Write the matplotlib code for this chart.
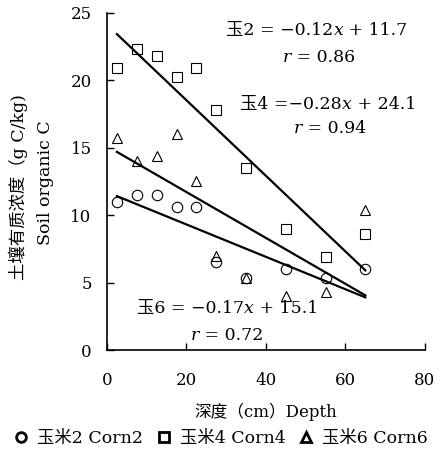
import matplotlib
matplotlib.use("Agg")
import matplotlib.pyplot as plt
import numpy as np
from matplotlib.lines import Line2D
from matplotlib.transforms import Bbox

FAM = ['DejaVu Serif', 'Noto Sans CJK SC']
plt.rcParams['font.family'] = FAM

# Data
depth = [2.5, 7.5, 12.5, 17.5, 22.5, 27.5, 35, 45, 55, 65]
corn2 = [11.0, 11.5, 11.5, 10.6, 10.6, 6.5, 5.3, 6.0, 5.3, 6.0]
corn4 = [20.9, 22.3, 21.8, 20.2, 20.9, 17.8, 13.5, 9.0, 6.9, 8.6]
corn6 = [15.7, 14.0, 14.4, 16.0, 12.5, 7.0, 5.3, 4.0, 4.3, 10.4]

series_labels = ['玉米2 Corn2', '玉米4 Corn4', '玉米6 Corn6']
fit_names = ['玉2', '玉4', '玉6']
fit_slope = [-0.12, -0.28, -0.17]
fit_intercept = [11.7, 24.1, 15.1]
fit_r = [0.86, 0.94, 0.72]
fit_range = [2.5, 65]

xticks = [0, 20, 40, 60, 80]
yticks = [0, 5, 10, 15, 20, 25]

fig = plt.figure(figsize=(4.42, 4.63), dpi=100)
ax = fig.add_axes([0.242, 0.244, 0.7195, 0.729])

markers = ['o', 's', '^']
series = [corn2, corn4, corn6]
for ys, m in zip(series, markers):
    ax.plot(depth, ys, linestyle='none', marker=m, markersize=7.5,
            markerfacecolor='none', markeredgecolor='black', markeredgewidth=0.8,
            zorder=3)

xs = np.array(fit_range)
for s, b in zip(fit_slope, fit_intercept):
    ax.plot(xs, s * xs + b, color='black', linewidth=1.6, zorder=2)

ax.set_xlim(0, 80)
ax.set_ylim(0, 25)
ax.set_xticks(xticks)
ax.set_yticks(yticks)
ax.tick_params(direction='in', length=5, width=1, labelsize=12)
ax.tick_params(axis='x', pad=16)
ax.tick_params(axis='y', pad=11)
for sp in ['top', 'right']:
    ax.spines[sp].set_visible(False)
for sp in ['left', 'bottom']:
    ax.spines[sp].set_linewidth(1.2)

fs = 12.5
groups = []


def chain_text(x, y, pieces):
    arts = []
    prev = None
    for s, style in pieces:
        if prev is None:
            prev = ax.text(x, y, s, ha='left', va='center', fontsize=fs,
                           fontstyle=style)
        else:
            prev = ax.annotate(s, xy=(1, 0), xycoords=prev, ha='left',
                               va='bottom', fontsize=fs, fontstyle=style)
        arts.append(prev)
    groups.append((x, y, arts))


def eq_pieces(name, s, b, sep=' = '):
    sign = '−' if s < 0 else ''
    return [(f'{name}{sep}{sign}{abs(s):.2f}', 'normal'), ('x', 'italic'),
            (f' + {b:.1f}', 'normal')]


def r_pieces(r):
    return [('r', 'italic'), (f' = {r:.2f}', 'normal')]


# centers given in data x
chain_text(52.8, 23.7, eq_pieces(fit_names[0], fit_slope[0], fit_intercept[0]))
chain_text(53.3, 21.7, r_pieces(fit_r[0]))
chain_text(55.6, 18.2, eq_pieces(fit_names[1], fit_slope[1], fit_intercept[1], sep=' ='))
chain_text(56.1, 16.4, r_pieces(fit_r[1]))
chain_text(30.3, 3.1, eq_pieces(fit_names[2], fit_slope[2], fit_intercept[2]))
chain_text(30.3, 1.1, r_pieces(fit_r[2]))

fig.text(266 / 442, 1 - 412 / 463, '深度（cm）Depth', ha='center', va='center',
         fontsize=12)
fig.text(18 / 442, 1 - 187 / 463, '土壤有质浓度（g C/kg)', rotation=90,
         ha='center', va='center', fontsize=12.5)
fig.text(45 / 442, 1 - 183 / 463, 'Soil organic C', rotation=90,
         ha='center', va='center', fontsize=12.5)

handles = [Line2D([], [], linestyle='none', marker=m, markersize=7,
                  markerfacecolor='none', markeredgecolor='black', markeredgewidth=2)
           for m in markers]
fig.legend(handles, series_labels, loc='center', bbox_to_anchor=(0.5, 0.052),
           ncol=3, frameon=False, fontsize=12.5, handlelength=0.8,
           handletextpad=0.5, columnspacing=0.8, borderaxespad=0)

# center each chained text group on its target x
fig.canvas.draw()
renderer = fig.canvas.get_renderer()
for x, y, arts in groups:
    bb = Bbox.union([a.get_window_extent(renderer) for a in arts])
    target_px = ax.transData.transform((x, y))[0]
    start_px = ax.transData.transform((x, y))[0]
    dx = target_px - (bb.x0 + bb.x1) / 2
    new_left = ax.transData.inverted().transform((start_px + dx, 0))[0]
    arts[0].set_position((new_left, y))

fig.savefig('out.png', dpi=100)
